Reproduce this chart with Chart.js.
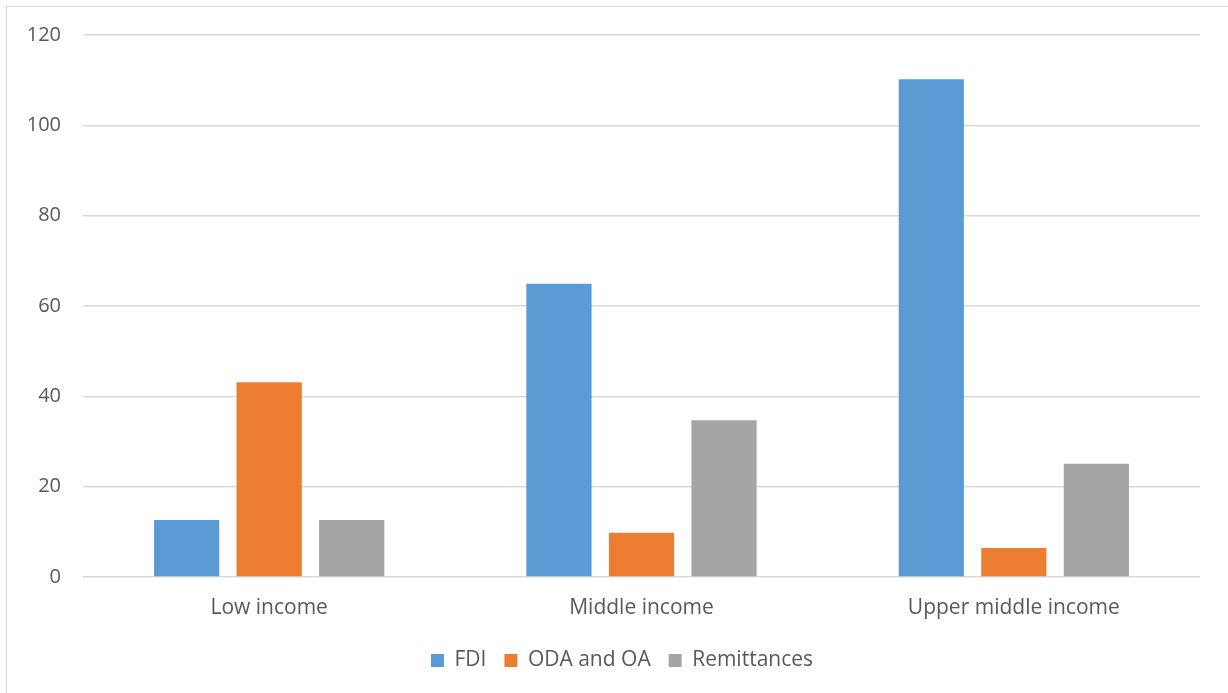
<!DOCTYPE html>
<html>
<head>
<meta charset="utf-8">
<script src="https://cdn.jsdelivr.net/npm/chart.js@4.4.0/dist/chart.umd.min.js"></script>
<style>
    html, body { margin: 0; padding: 0; background: #ffffff; }
    .frame {
        position: absolute;
        left: 6px;
        top: 6px;
        width: 1240px;
        height: 710px;
        border: 1.5px solid #d9d9d9;
    }
    #wrap { position: absolute; left: 0; top: 0; width: 1228px; height: 693px; }
</style>
</head>
<body>
<div class="frame"></div>
<div id="wrap"><canvas id="flowsChart"></canvas></div>
<script>
// Income groups and flow values (billions)
const incomeGroups = ['Low income', 'Middle income', 'Upper middle income'];
const fdiValues = [12.6, 64.9, 110.2];
const odaValues = [43.1, 9.8, 6.4];
const remittanceValues = [12.6, 34.7, 25.1];
const yTicks = [0, 20, 40, 60, 80, 100, 120];

const textColor = '#595959';
const gridColor = '#d9d9d9';
const fontFamily = "'Open Sans', 'Liberation Sans', sans-serif";

function makeDataset(label, data, color) {
    return {
        label: label,
        data: data,
        backgroundColor: color,
        borderWidth: 0,
        categoryPercentage: 0.665,
        barPercentage: 0.79
    };
}

// Nudge the legend a little to the right
const legendShift = {
    id: 'legendShift',
    afterLayout: function (chart) {
        if (chart.legend) {
            chart.legend.left += 22;
            chart.legend.right += 22;
        }
    }
};

document.addEventListener('DOMContentLoaded', function () {
    const ctx = document.getElementById('flowsChart');

    new Chart(ctx, {
        type: 'bar',
        data: {
            labels: incomeGroups,
            datasets: [
                makeDataset('FDI', fdiValues, '#5b9bd5'),
                makeDataset('ODA and OA', odaValues, '#ed7d31'),
                makeDataset('Remittances', remittanceValues, '#a5a5a5')
            ]
        },
        plugins: [legendShift],
        options: {
            responsive: true,
            maintainAspectRatio: false,
            animation: false,
            layout: {
                padding: { top: 35, right: 28, left: 0, bottom: 12 }
            },
            plugins: {
                legend: {
                    position: 'bottom',
                    labels: {
                        boxWidth: 13,
                        boxHeight: 13,
                        padding: 18,
                        color: textColor,
                        font: { family: fontFamily, size: 21 }
                    }
                },
                tooltip: { enabled: false }
            },
            scales: {
                x: {
                    grid: { display: false, drawTicks: false },
                    border: { display: false },
                    ticks: {
                        color: textColor,
                        padding: 18,
                        font: { family: fontFamily, size: 21 }
                    },
                    afterFit: function (scale) {
                        scale.height = 55;
                    }
                },
                y: {
                    min: 0,
                    max: 120,
                    afterBuildTicks: function (scale) {
                        scale.ticks = yTicks.map(v => ({ value: v }));
                    },
                    grid: { color: gridColor, lineWidth: 1.5, drawTicks: false },
                    border: { display: false },
                    ticks: {
                        color: textColor,
                        padding: 22,
                        font: { family: fontFamily, size: 20 }
                    },
                    afterFit: function (scale) {
                        scale.width = 83;
                    }
                }
            }
        }
    });
});
</script>
</body>
</html>
